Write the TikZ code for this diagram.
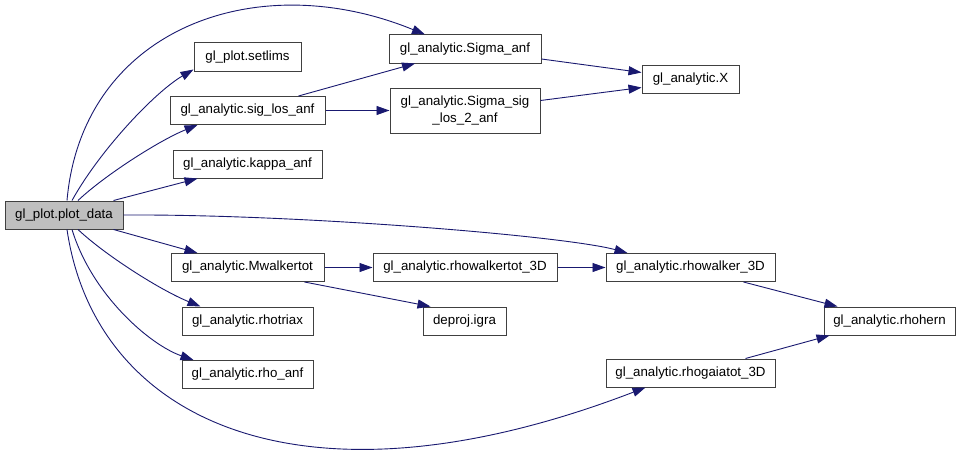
\documentclass[tikz,border=0pt]{standalone}
\usepackage{fontspec}
\setmainfont{Liberation Sans}
\usetikzlibrary{arrows.meta}
\definecolor{fnborder}{HTML}{404040}
\definecolor{fngray}{HTML}{BFBFBF}
\definecolor{callblue}{HTML}{191970}

\begin{document}
\begin{tikzpicture}[x=1pt, y=1pt,
		fn/.style={rectangle, draw=fnborder, line width=1pt, text=black, inner sep=0pt, minimum height=28pt, font=\fontsize{13.3}{17}\selectfont},
		call/.style={draw=callblue, line width=0.9pt, -{Triangle[length=13pt,width=9pt]}}]
			\fill[white] (0,0) rectangle (960,-452);
			\useasboundingbox (0,0) rectangle (960,-452);

			% Define nodes with their coordinates
			\node[fn, fill=fngray, minimum width=118pt] (plotdata) at (64,-215) {gl\_plot.plot\_data};
			\node[fn, minimum width=107pt] (setlims) at (247.5,-57) {gl\_plot.setlims};
			\node[fn, minimum width=155pt] (siglos) at (247.5,-110.5) {gl\_analytic.sig\_los\_anf};
			\node[fn, minimum width=149pt] (kappa) at (247.5,-164) {gl\_analytic.kappa\_anf};
			\node[fn, minimum width=152pt] (sigmaanf) at (465,-49) {gl\_analytic.Sigma\_anf};
			\node[fn, minimum width=150pt, minimum height=45pt, align=center] (sigma2) at (465,-110.5) {gl\_analytic.Sigma\_sig\\\_los\_2\_anf};
			\node[fn, minimum width=97pt] (X) at (690.5,-79.5) {gl\_analytic.X};
			\node[fn, minimum width=153pt] (mwalker) at (247.5,-267.5) {gl\_analytic.Mwalkertot};
			\node[fn, minimum width=131pt] (rhotriax) at (247.5,-321) {gl\_analytic.rhotriax};
			\node[fn, minimum width=131pt] (rhoanf) at (247.5,-374.5) {gl\_analytic.rho\_anf};
			\node[fn, minimum width=184pt] (rhowtot) at (465,-267.5) {gl\_analytic.rhowalkertot\_3D};
			\node[fn, minimum width=83pt] (igra) at (464.5,-321) {deproj.igra};
			\node[fn, minimum width=169pt] (rhowalker) at (690.5,-267.5) {gl\_analytic.rhowalker\_3D};
			\node[fn, minimum width=169pt] (rhogaia) at (690.5,-373) {gl\_analytic.rhogaiatot\_3D};
			\node[fn, minimum width=131pt] (rhohern) at (889.5,-321) {gl\_analytic.rhohern};

			% Draw calls from plot_data
			\draw[call] ([xshift=3pt]plotdata.north) .. controls (82,-30) and (255,35) .. ([xshift=-40pt]sigmaanf.north);
			\draw[call] ([xshift=8pt]plotdata.north) .. controls (100,-150) and (155,-92) .. ([yshift=2pt]setlims.south west);
			\draw[call] ([xshift=14pt]plotdata.north) .. controls (105,-175) and (160,-140) .. ([xshift=-50pt]siglos.south);
			\draw[call] ([xshift=-10pt]plotdata.north east) -- ([xshift=-50pt]kappa.south);
			\draw[call] (plotdata.east) .. controls (300,-214) and (565,-236) .. ([xshift=-63pt]rhowalker.north);
			\draw[call] ([xshift=-10pt]plotdata.south east) -- ([xshift=-50pt]mwalker.north);
			\draw[call] ([xshift=14pt]plotdata.south) .. controls (105,-255) and (160,-290) .. ([xshift=-47pt]rhotriax.north);
			\draw[call] ([xshift=8pt]plotdata.south) .. controls (92,-295) and (150,-345) .. ([xshift=-54pt]rhoanf.north);
			\draw[call] ([xshift=3pt]plotdata.south) .. controls (95,-420) and (300,-520) .. ([xshift=-45pt]rhogaia.south);

			% Draw the other calls
			\draw[call] ([xshift=51pt]siglos.north) -- ([xshift=-50pt]sigmaanf.south);
			\draw[call] (siglos) -- (sigma2);
			\draw[call] ([yshift=-10pt]sigmaanf.east) -- ([yshift=7pt]X.west);
			\draw[call] ([yshift=10pt]sigma2.east) -- ([yshift=-8pt]X.west);
			\draw[call] (mwalker) -- (rhowtot);
			\draw[call] ([xshift=57pt]mwalker.south) -- ([xshift=-34pt]igra.north);
			\draw[call] (rhowtot) -- (rhowalker);
			\draw[call] ([xshift=53pt]rhowalker.south) -- ([xshift=-52pt]rhohern.north);
			\draw[call] ([xshift=55pt]rhogaia.north) -- ([xshift=-60pt]rhohern.south);

		\end{tikzpicture}
\end{document}
